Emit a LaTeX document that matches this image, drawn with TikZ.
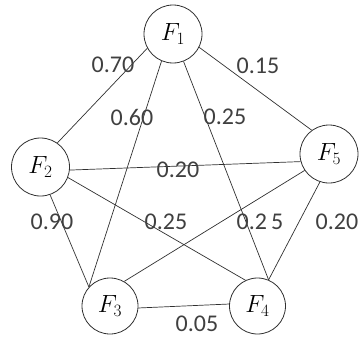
\documentclass[tikz,border=0pt]{standalone}
\usepackage{fontspec}
\setmainfont{Carlito}
\definecolor{txt}{HTML}{404040}
\definecolor{ln}{HTML}{303030}
\begin{document}
\begin{tikzpicture}[x=1pt,y=-1pt,
  fnode/.style={circle,draw=ln,line width=0.8pt,inner sep=0pt,minimum size=58pt,font=\fontsize{25}{25}\selectfont},
  edge/.style={draw=ln,line width=0.7pt},
  wt/.style={text=txt,inner sep=0pt,font=\fontsize{24}{24}\selectfont}]
\useasboundingbox (0,0) rectangle (361,340);
\node[fnode] (F1) at (173,34) {$F_1$};
\node[fnode] (F2) at (40.5,167) {$F_2$};
\node[fnode,minimum size=56pt] (F3) at (110,306) {$F_3$};
\node[fnode,minimum size=56pt] (F4) at (257.5,306) {$F_4$};
\node[fnode] (F5) at (329,154) {$F_5$};
\draw[edge] (F1.209) -- (F2.55);
\draw[edge] (F1.247) -- (F3.138);
\draw[edge] (F1.291) -- (F4.67);
\draw[edge] (F1.333) -- (F5.126);
\draw[edge] (F2.354) -- (F5.195);
\draw[edge] (F2.289) -- (F3.138);
\draw[edge] (F2.339) -- (F4.115);
\draw[edge] (F3.60) -- (F5.214);
\draw[edge] (F4.67) -- (F5.252);
\draw[edge] (F3.356) -- (F4.176);
\node[wt] (w12) at (113,65) {0.70};
\node[wt] (w15) at (258,66) {0.15};
\node[wt] (w13) at (132,117) {0.60};
\node[wt] (w14) at (225,117) {0.25};
\node[wt] (w25) at (178,170) {0.20};
\node[wt] (w23) at (52,222) {0.90};
\node[wt] (w24) at (166,222) {0.25};
\node[wt] (w35) at (260,222) {0.2\,5};
\node[wt] (w45) at (337,222) {0.20};
\node[wt] (w34) at (197,324) {0.05};
\end{tikzpicture}
\end{document}
